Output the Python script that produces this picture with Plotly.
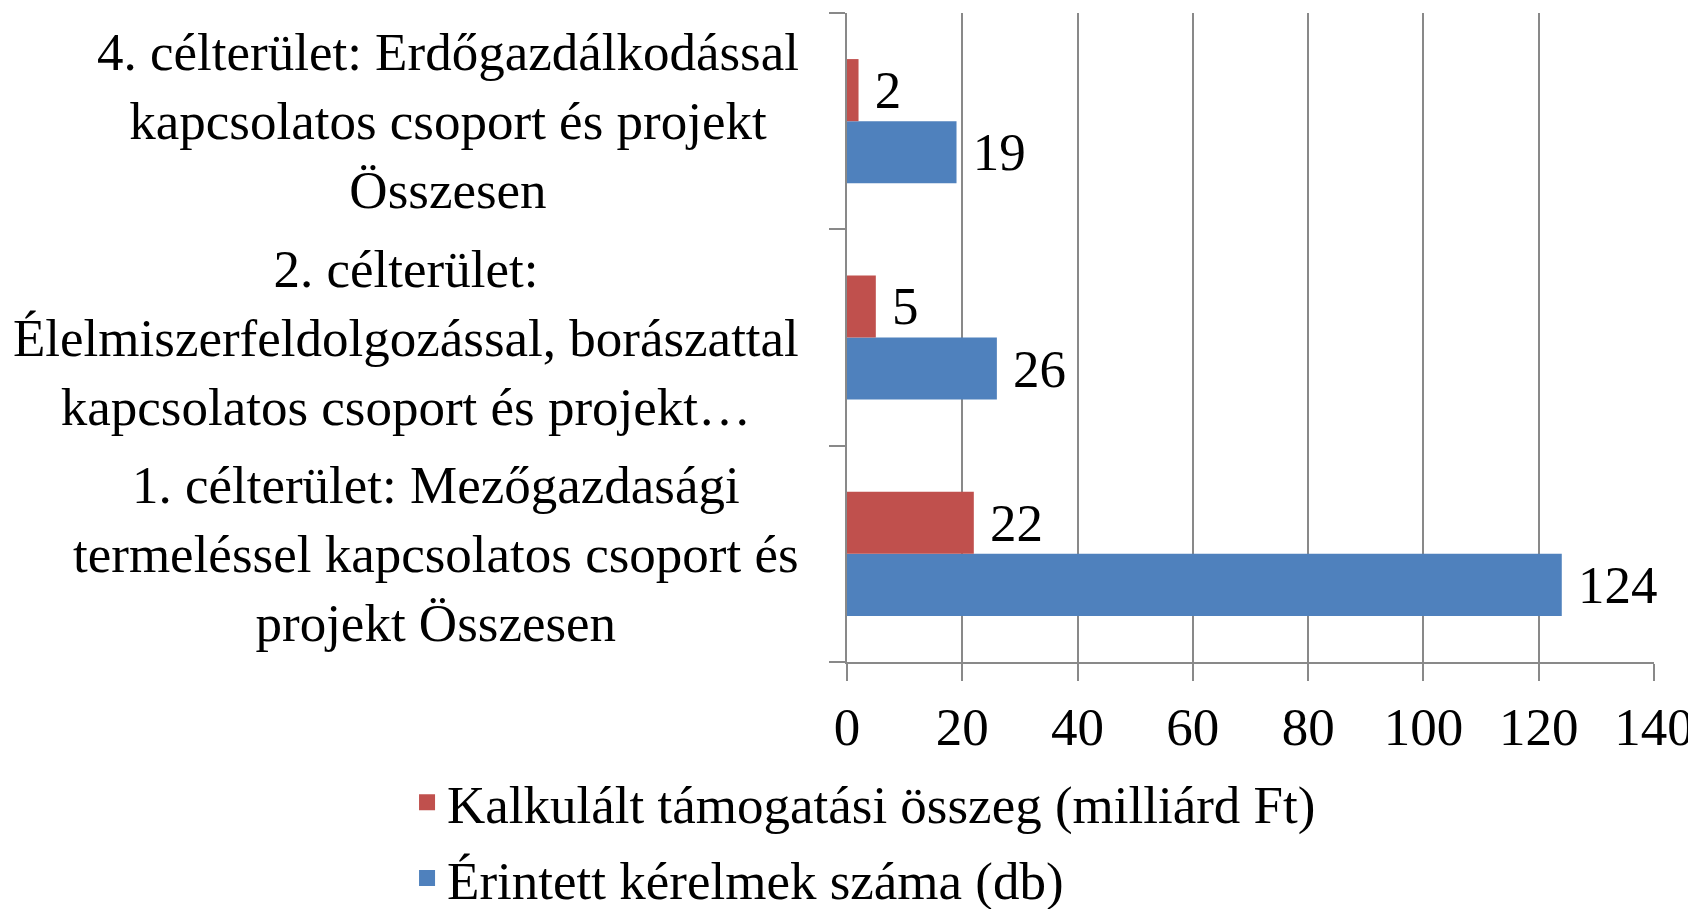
import plotly.graph_objects as go

categories = [
    "1. célterület: Mezőgazdasági<br>termeléssel kapcsolatos csoport és<br>projekt Összesen",
    "2. célterület:<br>Élelmiszerfeldolgozással, borászattal<br>kapcsolatos csoport és projekt…",
    "4. célterület: Erdőgazdálkodással<br>kapcsolatos csoport és projekt<br>Összesen",
]
cat_keys = ["c1", "c2", "c4"]
kalkulalt = [22, 5, 2]
erintett = [124, 26, 19]
series_names = ["Kalkulált támogatási összeg (milliárd Ft)", "Érintett kérelmek száma (db)"]
x_ticks = [0, 20, 40, 60, 80, 100, 120, 140]

FONT = "Liberation Serif, Times New Roman, serif"
RED = "#C0504D"
BLUE = "#4F81BD"
GRID = "#898989"
FS = 53

fig = go.Figure()
fig.add_trace(go.Bar(
    y=cat_keys, x=erintett, orientation="h", name=series_names[1],
    marker=dict(color=BLUE, line=dict(width=0)), showlegend=False,
    text=erintett, texttemplate=" %{x}", textposition="outside",
    textfont=dict(family=FONT, size=FS, color="black"), cliponaxis=False,
    constraintext="none",
))
fig.add_trace(go.Bar(
    y=cat_keys, x=kalkulalt, orientation="h", name=series_names[0],
    marker=dict(color=RED, line=dict(width=0)), showlegend=False,
    text=kalkulalt, texttemplate=" %{x}", textposition="outside",
    textfont=dict(family=FONT, size=FS, color="black"), cliponaxis=False,
    constraintext="none",
))
# legend entries
for name, color, grp in [(series_names[0], RED, "a"), (series_names[1], BLUE, "b")]:
    fig.add_trace(go.Scatter(
        x=[None], y=[None], mode="markers", name=name, legendgroup=grp,
        marker=dict(symbol="square", size=16, color=color),
    ))

for key, label in zip(cat_keys, categories):
    fig.add_annotation(
        x=-0.057, xref="paper", y=key, yref="y", text=label,
        xanchor="right", yanchor="middle", align="center", showarrow=False,
        font=dict(family=FONT, size=53, color="black"),
    )

fig.update_layout(
    width=1688, height=901,
    margin=dict(l=839, r=42, t=5, b=247, autoexpand=False),
    paper_bgcolor="white", plot_bgcolor="white",
    barmode="group", bargap=0.426, bargroupgap=0,
    font=dict(family=FONT, size=FS, color="black"),
    showlegend=True,
    legend=dict(
        traceorder="grouped", orientation="v", tracegroupgap=4,
        xref="container", yref="container",
        x=0.2364, y=0.164, xanchor="left", yanchor="top",
        font=dict(family=FONT, size=FS, color="black"),
        bgcolor="rgba(0,0,0,0)", itemwidth=30, itemsizing="trace",
    ),
    xaxis=dict(
        range=[0, 140], tickvals=x_ticks, ticktext=[str(v) for v in x_ticks],
        showgrid=True, gridcolor=GRID, gridwidth=2,
        showline=True, linecolor=GRID, linewidth=2,
        ticks="outside", ticklen=17, tickcolor=GRID, tickwidth=2,
        tickfont=dict(family=FONT, size=FS, color="black"),
        zeroline=False,
    ),
    yaxis=dict(
        type="category", categoryorder="array", categoryarray=cat_keys,
        range=[-0.5, 2.5], showticklabels=False,
        showline=True, linecolor=GRID, linewidth=2,
        ticks="outside", ticklen=16, tickcolor=GRID, tickwidth=2,
        tickson="boundaries", showgrid=False, zeroline=False,
    ),
)

fig.write_html("out.html")
